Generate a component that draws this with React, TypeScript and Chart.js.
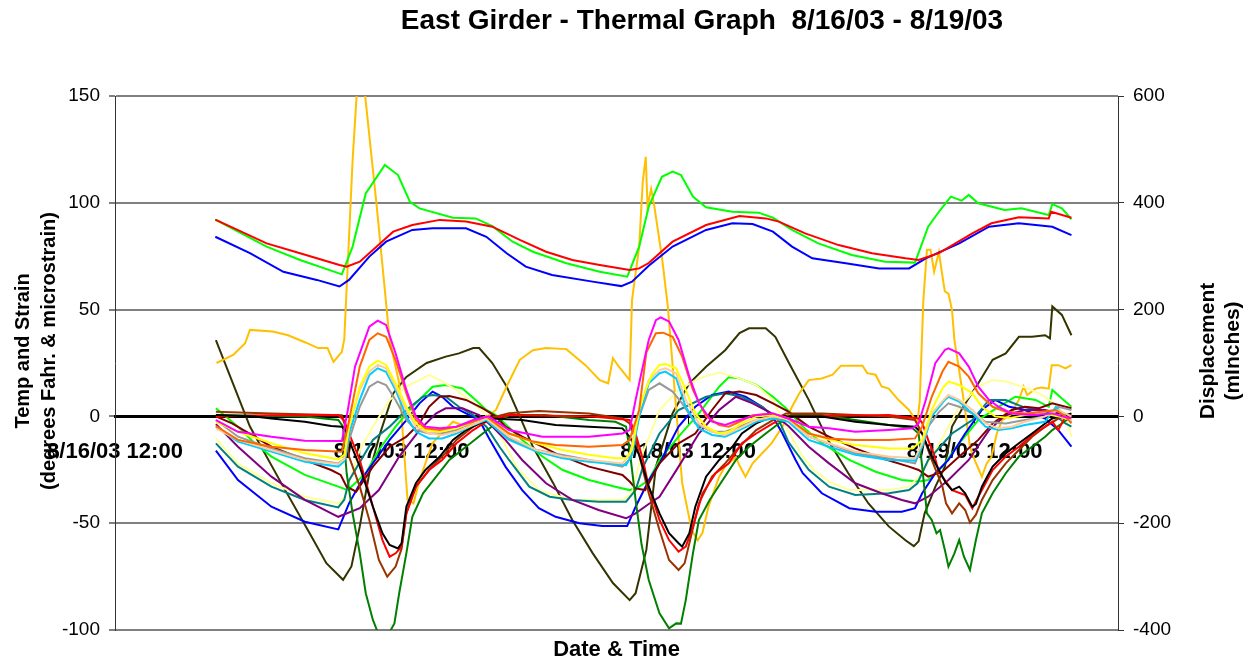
import React, { useEffect, useRef } from 'react';
import { Chart, registerables } from 'chart.js';

Chart.register(...registerables);

type Pt = [number, number];

const CHART_TITLE = 'East Girder - Thermal Graph  8/16/03 - 8/19/03';
const X_TITLE = 'Date & Time';
const Y_TITLE = ['Temp and Strain', '(degrees Fahr. & microstrain)'];
const Y2_TITLE = ['Displacement', '(mInches)'];

// hours after 8/16/03 12:00
const X_TICK_HOURS = [0, 24, 48, 72];
const X_TICK_LABELS = ['8/16/03 12:00', '8/17/03 12:00', '8/18/03 12:00', '8/19/03 12:00'];

// ---- temperatures (left axis) ----
const tempRed: Pt[] = [[8.4,92.1],[12.7,81],[15.5,76.4],[18.8,70.9],[19.4,70.1],[20.5,72.4],[22.2,81],[23.3,86.5],[24.9,89.6],[27.2,92],[29.4,91.2],[31.6,88.8],[33.9,82.6],[36.1,77.1],[38.3,73.2],[40.6,70.9],[43.1,68.5],[43.9,69.3],[44.7,71.8],[46.7,81.8],[49.5,89.6],[52.3,93.8],[54.5,92.7],[55.6,91.2],[57.8,85.7],[60.6,80.2],[63.4,76.4],[66.2,74],[67.3,73.2],[69,76.4],[71.8,85.7],[73.4,90.4],[75.7,93.2],[78.2,92.7],[78.4,95.8],[80.1,93]];
const tempGreen: Pt[] = [[8.4,92.1],[12.7,79.5],[15.5,73.2],[19,66.5],[19.9,79.5],[21,104.4],[22.6,117.7],[23.7,113],[24.7,100.5],[25.5,97.4],[28.3,93],[30.2,92.7],[31.6,89.1],[33.3,81.8],[35,77.1],[37.8,71.7],[40.6,67.7],[42.9,65.4],[43.9,79.5],[44.7,98.2],[45.8,112.2],[46.7,114.6],[47.4,113],[48.4,102.9],[49.5,97.9],[51.7,95.8],[53.9,95.4],[55.1,93],[56.7,87.3],[58.9,81],[61.7,75.6],[64.5,72.4],[67,72],[68.1,88.8],[69,95.8],[70,102.9],[70.9,101],[71.5,103.7],[72.3,99.8],[74.5,96.6],[75.9,97.4],[78.2,94.3],[78.5,99.4],[79.3,97.4],[80.1,92.3]];
const tempBlue: Pt[] = [[8.4,84.1],[11.3,76.4],[14.1,67.7],[16.9,63.9],[18.8,60.8],[19.6,63.9],[21.3,74.8],[22.7,81.8],[24.9,87.3],[26.6,88.1],[29.4,88.1],[31.1,84.1],[32.8,76.4],[34.4,70.1],[36.6,66.2],[40,63.1],[42.4,61],[43.3,63.1],[44.7,70.5],[46.7,79.5],[49.5,87.3],[51.7,90.4],[53.4,90.1],[55.1,86.5],[56.7,79.5],[58.4,74],[61.2,71.7],[64,69.3],[66.5,69.3],[67.9,74],[70.7,81],[73.2,88.8],[75.7,90.4],[78.5,88.8],[80.1,84.9]];

// ---- displacements (right axis, mInches) ----
const dispGold: Pt[] = [[8.5,100],[9.9,115],[10.9,137],[11.3,162],[13.2,159],[14.5,152],[16,138],[17,128],[17.8,128],[18.3,102],[19,121],[19.2,144],[19.9,480],[20.5,696],[21.9,398],[23,144],[23.8,62],[24.5,-156],[25,-163],[25.5,-119],[26.6,-50],[27.5,-28],[28.3,-10],[29.4,-19],[30.5,-13],[31.9,12],[32.8,56],[33.9,106],[35,124],[36.1,128],[37.8,126],[39.4,96],[40.6,68],[41.3,62],[41.7,109],[42.2,93],[43.1,68],[43.3,218],[43.9,318],[44.2,440],[44.45,486],[44.6,393],[44.9,426],[45.15,396],[45.8,299],[46.3,206],[47.5,-125],[48.3,-213],[48.8,-232],[49.2,-218],[49.7,-169],[50.6,-113],[51.1,-94],[52,-76],[52.3,-92],[52.8,-113],[53.4,-88],[54.2,-69],[55,-50],[55.9,-19],[56.7,18],[57.3,43],[58.1,68],[59.2,71],[60.1,78],[60.8,95],[62.6,95],[63,81],[63.7,78],[64.2,56],[64.8,52],[65.6,31],[66.5,12],[67.2,-13],[67.4,31],[67.7,218],[68,312],[68.3,312],[68.6,271],[69,308],[69.3,262],[69.5,234],[69.8,230],[70.1,199],[70.3,143],[70.65,93],[71.2,12],[71.6,-57],[72,-82],[72.6,-113],[73,-88],[73.4,-76],[73.85,-32],[74.3,-7],[75,3],[75.7,31],[76.1,56],[76.4,40],[77.1,52],[77.6,54],[78.2,52],[78.45,96],[79,96],[79.6,90],[80.1,96]];
const dispOlive: Pt[] = [[8.45,143],[11.3,-19],[14.1,-132],[16.3,-219],[17.7,-275],[19.1,-306],[19.8,-281],[20.5,-206],[21.3,-106],[22.2,-32],[23.3,43],[24.4,74],[26.1,100],[27.7,112],[28.8,118],[30,128],[30.5,128],[31.6,100],[32.8,56],[33.9,0],[35,-57],[36.7,-125],[38.3,-194],[40,-256],[41.7,-312],[43.1,-344],[43.6,-331],[44.5,-250],[45.3,-94],[46.7,6],[48.1,62],[49.5,93],[51.1,124],[52.3,156],[53.1,165],[54.5,165],[55.3,149],[56.4,102],[58.1,31],[59.7,-44],[61.4,-106],[63.1,-163],[64.8,-206],[66.2,-232],[66.9,-243],[67.3,-234],[67.8,-182],[68.7,-132],[69.5,-94],[70.1,-19],[71.2,24],[72.3,62],[73.5,106],[74.6,118],[75.7,149],[76.8,149],[77.9,152],[78.3,146],[78.5,206],[79.3,190],[80.1,152]];

// ---- strains (left axis) ----
const strMagenta: Pt[] = [[8.45,-1.7],[10.3,-7.2],[13.1,-9.5],[15.9,-11.4],[19,-11.5],[19.5,3],[20.1,23.3],[20.5,29.5],[21.3,42],[22,44.8],[22.7,42.8],[23.5,29.5],[24.4,12.4],[25.2,-0.1],[26,-4.8],[27.2,-5.6],[28.6,-4.8],[30,-1.7],[31.3,0],[33,-6.4],[35.8,-9.5],[39.7,-9.5],[42.5,-8],[43.1,-6.4],[43.6,7.7],[44.2,23.3],[44.7,35.8],[45.3,45.1],[45.7,46.4],[46.4,44.4],[47.2,35.8],[48.1,18.6],[48.9,6.1],[50,-2.5],[51.1,-4],[52.3,-1.7],[53.7,0.6],[55.1,1.4],[56.4,-1],[58.1,-4.8],[59.8,-5.6],[62,-7.2],[64.8,-6.4],[66.8,-5.6],[67.3,-3.3],[67.9,7.7],[68.7,24.9],[69.5,31.1],[69.8,31.9],[70.7,29.5],[71.5,23.3],[72.3,13.9],[73.2,7.7],[74,4.5],[75.1,1.4],[76.8,0.6],[78.5,1.4],[79.3,0],[80.1,-1]];
const strOrange: Pt[] = [[8.45,-4.5],[10.3,-11],[13.1,-14.2],[15.9,-15.7],[19,-16.5],[19.5,-4.8],[20.5,23.3],[21.3,35.8],[22,38.9],[22.7,37.3],[23.5,26.4],[24.4,10.8],[25.2,-1.7],[26,-5.6],[27.2,-6.4],[28.6,-4.8],[30,-2.5],[31.1,0],[33,-8],[35,-11.8],[36.9,-13.4],[39.7,-14.2],[42.5,-13.4],[43.1,-11],[43.9,3],[44.5,30],[45.3,38.9],[45.9,39.2],[46.7,37.3],[47.5,28],[48.4,12.4],[49.5,0],[50.6,-4],[51.4,-4.8],[52.3,-2.5],[53.4,0.6],[55.1,1.4],[56.4,-1],[58.1,-8],[59.8,-10.3],[62,-11],[64.8,-11],[67,-10.3],[67.6,-4.8],[68.4,9.2],[69.3,21],[69.8,25.6],[70.7,23.3],[71.5,18.6],[72.3,10.8],[73.5,4.5],[74.6,2.2],[76.2,1.4],[77.6,2.2],[78.8,3],[79.6,0],[80.1,-3.3]];
const strYellow: Pt[] = [[8.45,-2.5],[10.3,-7.2],[13.1,-12.6],[15.9,-17.3],[18.7,-20.1],[19.2,-18],[19.6,-4.8],[20.5,13.9],[21.3,23.3],[22,26.1],[22.7,24.1],[23.5,15.5],[24.4,4.5],[25.2,-3.3],[26,-6.4],[27.2,-7.2],[28.6,-5.6],[30,-2.5],[31.1,0],[33,-8],[35.3,-12.6],[37.5,-15.7],[39.7,-18],[41.9,-19.6],[42.8,-19.6],[43.3,-15.7],[43.9,3],[44.4,12],[45,20],[45.6,24.1],[46.1,24.5],[47,22.5],[47.8,12.4],[48.6,1.4],[49.5,-4.8],[50.6,-8],[51.4,-7.2],[52.3,-4],[53.7,0],[55.1,0.6],[56.4,-1],[58.1,-8],[59.8,-11],[62,-13.4],[64.8,-15],[66.8,-15],[67.6,-11],[68.4,3],[69.3,13.1],[69.8,16.3],[70.7,14.7],[71.8,10.8],[72.6,4.5],[73.7,0],[74.9,-0.8],[76.2,0.6],[77.9,1.4],[79,0],[80.1,-1.7]];
const strTan: Pt[] = [[8.45,-5.6],[10.3,-11],[13.1,-15.7],[15.9,-20.4],[18.7,-22.3],[19.2,-20],[19.6,-4.8],[20.5,12.4],[21.3,21],[22,24.1],[22.7,22.5],[23.5,13.9],[24.4,3],[25.2,-4.8],[26.3,-8],[27.4,-8.7],[28.6,-7.2],[30,-4],[31.1,-1],[33,-9.5],[35.3,-15.7],[37.5,-18.8],[39.7,-20.4],[42.5,-22],[43.1,-18],[43.9,3],[44.7,17],[45.6,21.7],[46.1,22.5],[47,20.2],[47.8,7.7],[48.9,-3.3],[50,-7.2],[51.1,-8.7],[52.3,-5.6],[53.7,-1.7],[55.1,0],[56.4,-1.5],[58.1,-9.5],[59.8,-12.6],[62,-16.5],[64.8,-18.8],[67,-19.6],[67.6,-12.6],[68.4,1.4],[69.5,8.4],[69.8,10],[70.7,7.7],[71.8,3],[72.9,-3.3],[74,-5.6],[75.1,-4.8],[76.2,-2.5],[77.9,0],[79,3],[80.1,0]];
const strSky: Pt[] = [[8.45,-4.8],[10.3,-11.8],[13.1,-16.5],[15.9,-21.2],[18.7,-23.5],[19.2,-21],[19.6,-8],[20.5,7.7],[21.3,19.4],[22,22.5],[22.7,20.9],[23.5,12.4],[24.4,0],[25.2,-7.2],[26.3,-10.3],[27.4,-10.3],[28.6,-8],[30,-4],[31.1,-1.7],[33,-11],[35.3,-16.5],[37.5,-19.6],[39.7,-21.2],[42.8,-22.8],[43.3,-18],[43.9,0],[44.7,15.5],[45.6,20.2],[46.1,21],[47,17.8],[47.8,4.5],[48.9,-5.6],[50,-8.7],[51.1,-9.5],[52.3,-6.4],[53.7,-2.5],[55.1,-1],[56.4,-2.5],[58.1,-11],[59.8,-14.2],[62,-18],[64.8,-20.4],[67,-20.7],[67.6,-14],[68.4,0],[69.5,7.7],[69.8,9.2],[70.7,6.9],[71.8,1.4],[72.9,-4.8],[74,-6.4],[75.1,-5.6],[76.2,-4],[77.9,-2.5],[78.8,4.5],[79.6,0],[80.1,-2.5]];
const strGrey: Pt[] = [[8.45,-1.7],[10.3,-9.5],[13.1,-15],[15.9,-19.6],[18.7,-22],[19.2,-20],[19.6,-11],[20.5,4.5],[21.3,13.9],[22,16.3],[22.7,14.7],[23.5,7.7],[24.4,-1.7],[25.2,-6.4],[26.3,-8],[27.4,-8],[28.6,-6.4],[30,-2.5],[31.1,-0.5],[33,-10.3],[35.3,-15.7],[39.7,-20.4],[42.5,-23.5],[43.1,-20],[43.9,0],[44.7,12.4],[45.6,15.5],[46.7,11.6],[47.5,6.1],[48.6,-3.3],[50,-7.2],[51.1,-7.2],[52.3,-4.8],[53.7,-1.7],[55.1,0],[56.4,-1],[58.1,-9.5],[62,-17.3],[64.8,-19.6],[67,-22],[67.6,-14],[68.1,-4.8],[69,2],[69.8,6.1],[70.7,4.5],[71.8,1.4],[72.9,-2.5],[74.6,-3.3],[76.2,-1.7],[77.9,0],[79,4.5],[80.1,3]];
const strBlack: Pt[] = [[8.45,0.6],[11.7,0],[13.1,-1],[15.9,-2.5],[18.1,-4.5],[19,-4.8],[19.5,-8],[19.6,-11],[20.5,-23.5],[21.6,-42.3],[22.4,-54.7],[23,-60.2],[23.7,-61.8],[24,-59.4],[24.4,-42.3],[25.2,-31.3],[26,-25.1],[27.2,-18.8],[28.3,-11],[29.4,-6.4],[30.5,-3.3],[31.6,-1],[34.1,-1.7],[36.9,-4],[39.7,-4.8],[42.5,-5.6],[43.1,-9.5],[43.9,-18],[44.7,-32.9],[45.6,-45.4],[46.4,-54.7],[47.2,-59.4],[47.5,-61],[48.1,-54.7],[48.6,-42.3],[49.5,-28.2],[50.6,-20.4],[51.7,-14.2],[52.5,-8],[53.7,-3.3],[55.1,0],[59.2,0],[62,-2.5],[64.8,-4],[67,-4.8],[67.6,-8],[68.4,-18.8],[69,-25.1],[69.6,-31.3],[70.1,-34.5],[70.7,-32.9],[71.2,-36],[71.8,-42.3],[72.1,-41],[72.6,-32.9],[73.5,-23.5],[74.6,-17.3],[75.7,-12.6],[76.8,-8],[77.9,-3.3],[78.5,-1],[79.6,0.6],[80.1,1.4]];
const strRed: Pt[] = [[8.45,0],[13,0.5],[18.7,0.6],[19.2,-2],[19.6,-8],[20.5,-20.4],[21.6,-42.3],[22.4,-57.9],[23,-65.7],[23.5,-64.1],[24,-61],[24.4,-45.4],[25.2,-32.9],[26.3,-25.1],[27.4,-20.4],[28.6,-12.6],[30,-6.4],[31.3,-1.7],[33,0.6],[40,0],[43.1,-1.7],[43.6,-8],[44.2,-20],[44.7,-32.9],[45.6,-48.5],[46.4,-57.9],[47.2,-63.3],[47.8,-61],[48.4,-51.6],[49.2,-36],[50.3,-26.6],[51.4,-22],[52.5,-12.6],[53.7,-8],[55.1,-3.3],[56.4,0],[64.8,0.6],[67.3,-1],[67.6,-3],[68.1,-11],[68.6,-18],[69,-26],[70.1,-34.5],[71.2,-36.8],[71.8,-43],[72.3,-37.6],[73.5,-25.1],[74.6,-18.8],[75.7,-14.2],[76.8,-8.7],[77.9,-4.8],[78.5,-2.5],[79,-6.4],[79.6,0],[80.1,0.6]];
const strBrown: Pt[] = [[8.45,2.2],[13.1,1.4],[19,0.6],[19.3,-5],[19.6,-18.8],[20.5,-32.9],[21.3,-48.5],[22.1,-67.2],[22.8,-75],[23.5,-70.3],[24,-62],[24.4,-45.4],[25.2,-32.9],[26.3,-25.1],[27.4,-18.8],[28.6,-11],[30,-4.8],[31.3,-1],[33,1.5],[35.5,2.5],[39.7,1.4],[42.5,-1],[43.1,-3.3],[43.6,-11],[43.9,-18],[44.7,-36],[45.6,-53.2],[46.4,-67.2],[47.2,-71.9],[47.7,-68.8],[48.1,-59.4],[48.9,-40.7],[50,-28.2],[51.1,-22],[52.3,-14.2],[53.7,-6.4],[55.1,-1.7],[56.2,1.4],[59.2,1.4],[64.8,0],[67,-1.7],[67.6,-8],[68.4,-20.4],[69.3,-32.9],[69.6,-40.7],[70.1,-45.4],[70.7,-40.7],[71.2,-43.8],[71.6,-49.7],[72.1,-46],[72.6,-39.1],[73.5,-29.8],[74.6,-22],[75.7,-15.7],[76.8,-9.5],[77.9,-4.8],[79,-1],[80.1,0.6]];
const strDarkGreen: Pt[] = [[8.45,0.6],[15.9,0],[18.7,-1.7],[19.1,-4.8],[19.4,-26.6],[19.9,-45.4],[20.5,-64.1],[21,-82.8],[21.6,-95.3],[22,-101],[23,-101],[23.4,-96.9],[23.8,-82.8],[24.4,-64.1],[24.9,-47],[25.8,-36],[26.9,-28.2],[28,-20.4],[29.4,-14.2],[30.8,-8],[31.9,-3.3],[33,0.6],[36,0.6],[39.7,-1.7],[41.9,-2.5],[42.8,-4.8],[43.1,-15.7],[43.6,-39.1],[44.1,-60],[44.7,-76.6],[45.6,-92.2],[46.4,-99.2],[47,-96.9],[47.4,-97],[47.8,-86],[48.4,-64.1],[48.9,-48.5],[49.8,-39.1],[50.9,-29.8],[52,-20.4],[53.1,-14.2],[54.5,-8],[55.6,-3.3],[56.7,0.6],[59.2,0.6],[62,-1.7],[64.8,-4],[66.8,-5.6],[67.3,-8],[67.6,-23.5],[68,-45.4],[68.4,-48.5],[68.8,-54.7],[69.1,-53.2],[69.5,-62.5],[69.8,-70.3],[70.3,-64.1],[70.7,-57.9],[71.1,-65.7],[71.6,-71.9],[72.1,-57.9],[72.6,-45.4],[73.5,-36],[74.6,-26.6],[75.7,-18.8],[76.8,-14.2],[77.9,-9.5],[78.5,-6.4],[79.3,-3.3],[80.1,0]];
const strMaroon: Pt[] = [[8.45,0],[9.8,-3.3],[11.7,-9.5],[13.1,-14.2],[15.9,-20.4],[18.1,-25.1],[18.9,-27.4],[19.4,-32.9],[20.2,-35.2],[21.6,-23.5],[23,-14.2],[24.4,-9.5],[25.5,-3.3],[26.3,4.5],[27.2,9.2],[28,9.5],[29.4,7.7],[30.8,3.8],[31.9,0],[32.7,-4.8],[34.1,-9.5],[36.9,-17.3],[39.7,-23.5],[42.5,-27.4],[43.1,-30.5],[43.6,-33.7],[44.4,-34.5],[45.6,-22],[47.2,-12.6],[48.6,-8],[50,3],[51.1,10.8],[52.3,11.6],[53.7,10],[55.1,6.1],[56.4,2.2],[58.1,-4.8],[59.8,-9.5],[62,-15],[64.2,-19.6],[66.5,-23.5],[67.3,-25.1],[68.1,-28.2],[69.3,-25.9],[70.7,-18.8],[72.3,-11],[73.5,-3.3],[75.1,3],[76.2,4.5],[77.4,3.8],[78.5,6.1],[79.6,4.5],[80.1,3.8]];
const strPurple: Pt[] = [[8.45,-3.6],[10.3,-14.2],[13.1,-28.2],[15.9,-39.1],[18.7,-47],[20.5,-43],[22.1,-34.5],[23.8,-18.8],[25.5,-6.4],[26.9,1.4],[27.7,3.8],[29.1,3.8],[30.5,0.6],[31.6,-4.8],[32.7,-11],[34.1,-20.4],[36.1,-31.3],[38.3,-39.1],[40.5,-43.8],[42.8,-47.7],[43.6,-45.4],[44.7,-41],[45.6,-37.6],[47.2,-23.5],[48.9,-8],[50.6,3],[52,9.2],[53.4,6.1],[55,1.4],[56.4,-4.5],[58.1,-14.2],[59.8,-22],[62,-31.3],[64.2,-36],[65.9,-39.1],[67,-40.7],[68.1,-37.6],[69.8,-29.8],[71.5,-20.4],[73.2,-6.4],[74.6,0.6],[76.2,3],[77.9,3],[79.6,0.6],[80.1,0]];
const strTeal: Pt[] = [[8.45,-12.6],[10.3,-23.5],[13.1,-32.9],[15.9,-39.1],[18.7,-42.6],[19.2,-39],[19.6,-30],[21.6,-11],[23,-4.8],[24.4,3],[25.8,9.2],[26.6,10],[27.7,9.2],[28.8,4.5],[30,0.6],[31.1,-4.8],[32.2,-14.2],[33,-20.4],[34.7,-32.9],[36.4,-37.6],[38.3,-39.1],[40.5,-39.9],[42.8,-39.9],[43.6,-34.5],[44.2,-24],[45.6,-8],[47.2,3],[49.5,9.2],[51.1,10.8],[52.5,9.2],[54.2,4.5],[55.6,-1.7],[56.4,-12],[58.1,-25],[59.8,-32.9],[62,-36.8],[64.8,-36],[66.5,-34.5],[67.2,-31.3],[68.1,-20.4],[70.1,-8],[71.8,-1.7],[73.2,7.7],[74.6,7.7],[76,4.5],[77.4,3],[78.5,1.4],[79.6,-3.3],[80.1,-4.8]];
const strBlue: Pt[] = [[8.45,-16],[10.3,-29.8],[13.1,-42.3],[15.9,-49.3],[18.7,-52.9],[19.6,-40.7],[21,-26.6],[23,-11],[24.4,-1.7],[25.5,6.1],[26.6,11.6],[27.4,9.2],[28.3,4.5],[29.4,1.4],[30.5,-1.7],[31.3,-10],[32.7,-23.5],[34.1,-34.5],[35.5,-43],[36.9,-47],[38.9,-50],[40.8,-51.3],[42.9,-51.3],[43.6,-42.3],[44.7,-30],[45.6,-22],[47.2,-4.8],[48.6,4.5],[50,10],[51.4,11.6],[52.8,9.2],[54.2,4.5],[55,0.6],[55.9,-8],[57,-20.4],[57.6,-26.6],[59.2,-36],[61.5,-43],[63.7,-44.6],[65.9,-44.6],[67,-43],[67.6,-36],[68.7,-26.6],[69.8,-20.4],[71.2,-8],[72.6,3],[73.7,7.7],[74.9,4.5],[76.2,3],[77.9,-1],[79,-6.4],[80.1,-14.2]];
const strLtYellow: Pt[] = [[8.45,-10.3],[10.3,-22],[13.1,-31.3],[15.9,-37.6],[18.7,-40.7],[19.2,-38],[20.5,-15.7],[21.6,-4.8],[23,7.7],[24.4,13.9],[25.5,17],[26.3,19.4],[27.2,17],[28.6,12.4],[30,6.1],[31.1,0.6],[32.2,-8],[33.6,-23.5],[35.5,-34.5],[38.3,-39.1],[42.5,-39.1],[43.3,-36],[44,-20],[45.6,3],[47.2,12.4],[48.9,17.8],[50.6,20.5],[52.3,17.8],[53.7,14.7],[55.1,7.7],[56.2,-4.8],[57.5,-18],[58.5,-25],[59.8,-30.5],[61.5,-34.5],[64.8,-34.5],[66.5,-32.9],[67.6,-26.6],[68.7,-15.7],[69.3,-10],[70.7,4.5],[72.3,13.9],[73.5,17],[74.6,16.3],[76.2,13.6],[77.4,10.8],[78.5,6.9],[79.6,0],[80.1,-9.5]];
const strGreen: Pt[] = [[8.45,3.8],[10.3,-4.8],[11.7,-12.6],[13.1,-18.8],[15.9,-27.4],[18.7,-32.9],[19.5,-34.5],[21,-26.6],[22.1,-15.7],[23.5,-4.8],[24.9,4.5],[26.6,13.9],[27.7,14.7],[29.1,13.1],[30.2,7.7],[31.1,3],[31.9,0.6],[34.1,-11],[35.8,-18.8],[37.5,-25.1],[39.7,-29.8],[41.9,-32.9],[43.1,-34.5],[43.9,-32.9],[44.7,-29.8],[45.6,-20.4],[47.2,-9.5],[48.9,1.4],[50.6,13.9],[51.4,18.3],[52.3,17.8],[53.7,14.7],[55.1,9.2],[56.2,3.8],[57.6,-4.8],[59.2,-12.6],[61.5,-20.4],[63.7,-25.9],[65.9,-29.8],[67.3,-30.5],[68.1,-29.8],[69.3,-23.5],[70.7,-12.6],[72.3,-1.7],[74,4.5],[75.4,9.2],[77.1,7.7],[78.2,4.5],[78.5,12.4],[79.3,8.4],[80.1,4.5]];

const FONT = '"Liberation Sans", Arial, Helvetica, sans-serif';

const SERIES: { name: string; color: string; axis: 'y' | 'y1'; pts: Pt[] }[] = [
  { name: 'Temp 1', color: '#FF0000', axis: 'y', pts: tempRed },
  { name: 'Temp 2', color: '#00FF00', axis: 'y', pts: tempGreen },
  { name: 'Temp 3', color: '#0000FF', axis: 'y', pts: tempBlue },
  { name: 'Strain magenta', color: '#FF00FF', axis: 'y', pts: strMagenta },
  { name: 'Strain orange', color: '#FF6600', axis: 'y', pts: strOrange },
  { name: 'Strain yellow', color: '#FFFF00', axis: 'y', pts: strYellow },
  { name: 'Strain tan', color: '#FFCC99', axis: 'y', pts: strTan },
  { name: 'Strain sky', color: '#00CCFF', axis: 'y', pts: strSky },
  { name: 'Strain grey', color: '#999999', axis: 'y', pts: strGrey },
  { name: 'Strain black', color: '#000000', axis: 'y', pts: strBlack },
  { name: 'Strain red', color: '#FF0000', axis: 'y', pts: strRed },
  { name: 'Strain brown', color: '#993300', axis: 'y', pts: strBrown },
  { name: 'Strain dark green', color: '#008000', axis: 'y', pts: strDarkGreen },
  { name: 'Strain maroon', color: '#800000', axis: 'y', pts: strMaroon },
  { name: 'Strain purple', color: '#800080', axis: 'y', pts: strPurple },
  { name: 'Strain teal', color: '#008080', axis: 'y', pts: strTeal },
  { name: 'Strain blue', color: '#0000FF', axis: 'y', pts: strBlue },
  { name: 'Strain light yellow', color: '#FFFF99', axis: 'y', pts: strLtYellow },
  { name: 'Strain green', color: '#00FF00', axis: 'y', pts: strGreen },
  { name: 'Displacement 1', color: '#FFC000', axis: 'y1', pts: dispGold },
  { name: 'Displacement 2', color: '#333300', axis: 'y1', pts: dispOlive },
];

const titlesPlugin = {
  id: 'excelTitles',
  afterDraw(chart: any) {
    const { ctx, chartArea } = chart;
    const midY = (chartArea.top + chartArea.bottom) / 2 - 12;
    ctx.save();
    ctx.fillStyle = '#000';
    ctx.textAlign = 'center';
    ctx.textBaseline = 'middle';
    ctx.font = `bold 28px ${FONT}`;
    ctx.fillText(CHART_TITLE, 702, 21);
    ctx.font = `bold 22px ${FONT}`;
    ctx.fillText(X_TITLE, (chartArea.left + chartArea.right) / 2, 650);
    ctx.font = `bold 20px ${FONT}`;
    const drawV = (text: string, x: number, y: number) => {
      ctx.save();
      ctx.translate(x, y);
      ctx.rotate(-Math.PI / 2);
      ctx.fillText(text, 0, 0);
      ctx.restore();
    };
    drawV(Y_TITLE[0], 23, midY);
    drawV(Y_TITLE[1], 49, midY);
    ctx.font = `bold 21px ${FONT}`;
    drawV(Y2_TITLE[0], 1208, midY);
    drawV(Y2_TITLE[1], 1233, midY);
    ctx.restore();
  },
};

export default function App() {
  const ref = useRef<HTMLCanvasElement | null>(null);
  useEffect(() => {
    if (!ref.current) return;
    const chart = new Chart(ref.current, {
      type: 'line',
      data: {
        datasets: SERIES.map((s) => ({
          label: s.name,
          data: s.pts.map(([x, y]) => ({ x, y })),
          borderColor: s.color,
          backgroundColor: s.color,
          borderWidth: 2,
          pointRadius: 0,
          tension: 0,
          fill: false,
          yAxisID: s.axis,
        })),
      },
      options: {
        animation: false,
        responsive: false,
        maintainAspectRatio: false,
        layout: { padding: { top: 96, bottom: 31, left: 0, right: 0 } },
        plugins: { legend: { display: false }, tooltip: { enabled: false }, title: { display: false } },
        scales: {
          x: {
            type: 'linear',
            min: 0,
            max: 84,
            position: { y: 0 } as any,
            afterBuildTicks: (scale: any) => {
              scale.ticks = X_TICK_HOURS.map((v) => ({ value: v }));
            },
            ticks: {
              autoSkip: false,
              maxRotation: 0,
              minRotation: 0,
              padding: 16,
              color: '#000',
              font: { family: FONT, size: 22, weight: 'bold' },
              callback: (value: any) => {
                const i = X_TICK_HOURS.indexOf(Number(value));
                return i >= 0 ? X_TICK_LABELS[i] : '';
              },
            },
            grid: { drawOnChartArea: false, drawTicks: true, tickLength: 6, color: '#000', lineWidth: 1 },
            border: { display: true, color: '#000', width: 3 },
          },
          y: {
            position: 'left',
            min: -100,
            max: 150,
            ticks: { stepSize: 50, padding: 9, color: '#000', font: { family: FONT, size: 19 } },
            grid: { color: '#808080', lineWidth: 2, tickLength: 6 },
            border: { display: true, color: '#333', width: 1 },
            afterFit: (scale: any) => {
              scale.width = 115;
            },
          },
          y1: {
            position: 'right',
            min: -400,
            max: 600,
            ticks: { stepSize: 200, padding: 9, color: '#000', font: { family: FONT, size: 19 } },
            grid: { drawOnChartArea: false, tickLength: 6, color: '#333', lineWidth: 1 },
            border: { display: true, color: '#333', width: 1 },
            afterFit: (scale: any) => {
              scale.width = 130;
            },
          },
        },
      } as any,
      plugins: [titlesPlugin],
    });
    return () => chart.destroy();
  }, []);

  return (
    <div style={{ position: 'absolute', left: 0, top: 0, width: 1248, height: 661, background: '#fff' }}>
      <canvas ref={ref} width={1248} height={661} style={{ display: 'block' }} />
    </div>
  );
}
